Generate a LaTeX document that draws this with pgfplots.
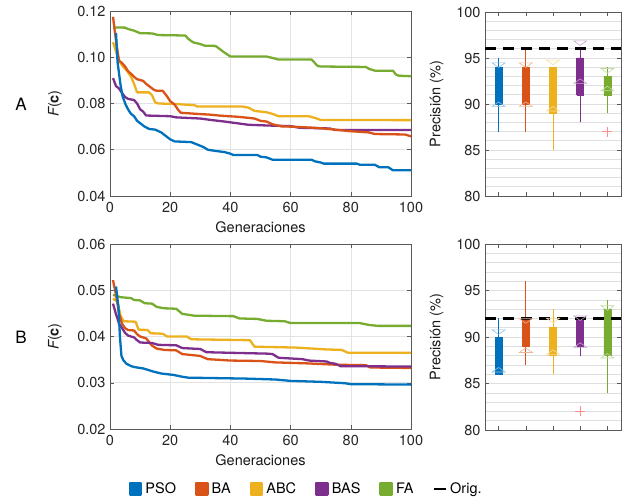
\documentclass[border=0pt]{standalone}
\usepackage{fontspec}
\setmainfont{TeX Gyre Heros}
\usepackage{pgfplots}
\pgfplotsset{compat=1.18}

\definecolor{cPSO}{rgb}{0,0.447,0.741}
\definecolor{cBA}{rgb}{0.85,0.325,0.098}
\definecolor{cABC}{rgb}{0.929,0.694,0.125}
\definecolor{cBAS}{rgb}{0.494,0.184,0.556}
\definecolor{cFA}{rgb}{0.466,0.674,0.188}

\newcommand{\fs}{\fontsize{14.5}{17}\selectfont}

\pgfplotsset{
  base/.style={
    scale only axis,
    axis line style={black!65},
    tick style={black!65, line width=0.5pt},
    tick align=inside,
    major tick length=4pt,
    minor tick length=0pt,
    every tick label/.append style={font=\fs, text=black!85},
    /pgf/number format/assume math mode=true,
    yticklabel style={xshift=-1pt},
    xticklabel style={yshift=-3pt},
  },
  conv/.style={
    base,
    width=301pt, height=185pt,
    xmin=0, xmax=100, xtick={0,20,...,100},
    scaled y ticks=false,
    grid=major, grid style={gray!22, line width=0.6pt},
    xlabel={Generaciones},
    ylabel={{\itshape F}(\textbf{c})},
    every axis x label/.style={at={(axis description cs:0.5,-0.17)}, anchor=center, font=\fs, text=black!90},
    every axis y label/.style={at={(axis description cs:-0.183,0.5)}, rotate=90, anchor=center, font=\fs, text=black!90},
    yticklabel style={/pgf/number format/fixed, /pgf/number format/fixed zerofill, /pgf/number format/precision=2},
    every axis plot/.append style={line width=2.3pt, no marks, line join=round},
  },
  prec/.style={
    base,
    width=136pt, height=184pt,
    xmin=0.5, xmax=5.5, xtick={1,2,3,4,5}, xticklabels={},
    ymin=80, ymax=100, ytick={80,85,...,100},
    minor y tick num=4,
    ymajorgrids, yminorgrids,
    major grid style={gray!25, line width=0.6pt},
    minor grid style={gray!25, line width=0.6pt},
    ylabel={Precisión (\%)},
    every axis y label/.style={at={(axis description cs:-0.355,0.5)}, rotate=90, anchor=center, font=\fs, text=black!90},
  },
  wsk/.style={solid, draw=#1, line width=0.8pt, no marks},
  bx/.style={solid, fill=#1, draw=#1, line width=0.5pt, no marks},
  ndn/.style={only marks, mark=triangle, mark size=7.5pt,
    mark options={solid, draw=#1!45, fill=none, yscale=0.4, rotate=180, line width=0.6pt}},
  nup/.style={only marks, mark=triangle, mark size=7.5pt,
    mark options={solid, draw=#1!45, fill=none, yscale=0.4, line width=0.6pt}},
  outl/.style={only marks, mark=+, mark size=5pt, mark options={draw=red!45, line width=0.6pt}},
  orig/.style={black, line width=2.6pt, dash pattern=on 11pt off 7pt},
  sq/.style={legend image code/.code={\fill[#1] (0pt,-5.6pt) rectangle (11.3pt,5.6pt);}},
}

\begin{document}
\begin{tikzpicture}
\useasboundingbox (0,0) rectangle (628pt,501pt);

\node[font=\fontsize{17}{19}\selectfont] at (21pt,397pt) {A};
\node[font=\fontsize{17}{19}\selectfont] at (21pt,164pt) {B};

% ---------- A: convergence ----------
\begin{axis}[conv, at={(110pt,305pt)}, anchor=south west,
  ymin=0.04, ymax=0.12, ytick={0.04,0.06,...,0.12}]
\addplot[cFA] coordinates {
(1,0.1129) (5,0.1128) (6,0.1122) (8,0.1115) (10,0.1104) (14,0.1103) (16,0.1096)
(25,0.1094) (26,0.108) (27.5,0.1065) (30,0.1057) (31.5,0.1050) (35,0.1049) (36,0.104)
(37.5,0.1025) (40,0.1003) (52,0.1003) (54,0.0997) (56,0.0990) (67,0.0990) (69,0.0962)
(70,0.0960) (85,0.0958) (86,0.0950) (88,0.0942) (94,0.0942) (95,0.0925) (96,0.0920) (100,0.0918)};
\addplot[cBAS] coordinates {
(1,0.091) (2,0.0875) (3,0.0865) (4,0.0845) (5,0.0828) (6,0.082) (8,0.0815) (9,0.0800)
(10,0.0775) (11,0.0765) (12,0.0748) (20,0.0745) (22,0.0740) (30,0.0735) (34,0.0728)
(38,0.0722) (42,0.0715) (46,0.0708) (52,0.0705) (60,0.0702) (63,0.0695) (73,0.0692)
(75,0.0685) (100,0.0685)};
\addplot[cABC] coordinates {
(1,0.1065) (2,0.1025) (3,0.0985) (4,0.0965) (5,0.095) (6,0.0935) (7,0.0915) (8,0.0885)
(9,0.0848) (13,0.0848) (14,0.0835) (15,0.0805) (16,0.08) (22,0.0798) (25,0.0795)
(28,0.0793) (29,0.0787) (44,0.0787) (46,0.0782) (48,0.0768) (52,0.0762) (54,0.0755)
(56,0.0745) (66,0.0745) (68,0.0738) (70,0.0729) (100,0.0728)};
\addplot[cBA] coordinates {
(1,0.1175) (2,0.107) (3,0.0985) (4,0.0975) (5,0.096) (6,0.094) (7,0.0928) (8,0.0915)
(9,0.0905) (11,0.0898) (12,0.0885) (13,0.0875) (14.5,0.0860) (15.5,0.0855) (17.5,0.0855)
(19,0.083) (20,0.081) (21.5,0.0795) (22.5,0.0775) (23.5,0.076) (29,0.0755) (33,0.0752)
(37,0.0747) (42,0.0743) (46,0.0738) (48,0.0735) (50,0.0725) (52,0.0722) (54,0.071)
(57,0.0701) (60,0.0700) (68,0.0695) (74,0.0688) (80,0.068) (86,0.0675) (88,0.0668)
(98,0.0666) (100,0.0658)};
\addplot[cPSO] coordinates {
(2,0.1105) (2.5,0.098) (3.5,0.088) (4.2,0.083) (5.2,0.0795) (6.2,0.077) (7,0.0755)
(8,0.0745) (9,0.0725) (10,0.0715) (11.5,0.0700) (13,0.069) (15,0.0687) (17,0.0675)
(18.5,0.066) (20,0.0645) (21.5,0.0636) (27,0.0633) (28.5,0.0625) (31,0.0612) (32.5,0.060)
(35,0.0595) (38,0.059) (40,0.0583) (41,0.0577) (49,0.0577) (50,0.057) (52,0.0567)
(54,0.0557) (67,0.0557) (68,0.055) (70,0.0545) (71,0.054) (82,0.054) (83,0.0535)
(88,0.0535) (89.5,0.0524) (92.5,0.0524) (94,0.0511) (100,0.0511)};
\end{axis}

% ---------- A: precision ----------
\begin{axis}[prec, at={(485pt,305pt)}, anchor=south west]
% whiskers
\addplot[wsk=cPSO] coordinates {(1,87) (1,95)};
\addplot[wsk=cBA]  coordinates {(2,87) (2,96)};
\addplot[wsk=cABC] coordinates {(3,85) (3,94)};
\addplot[wsk=cBAS] coordinates {(4,88) (4,96)};
\addplot[wsk=cFA]  coordinates {(5,89) (5,94)};
% boxes (lower to upper quartile)
\addplot[bx=cPSO] coordinates {(0.87,90) (1.13,90) (1.13,94) (0.87,94) (0.87,90)};
\addplot[bx=cBA]  coordinates {(1.87,90) (2.13,90) (2.13,94) (1.87,94) (1.87,90)};
\addplot[bx=cABC] coordinates {(2.87,89) (3.13,89) (3.13,94) (2.87,94) (2.87,89)};
\addplot[bx=cBAS] coordinates {(3.87,91) (4.13,91) (4.13,95) (3.87,95) (3.87,91)};
\addplot[bx=cFA]  coordinates {(4.87,91) (5.13,91) (5.13,93) (4.87,93) (4.87,91)};
% notches
\addplot[ndn=cPSO] coordinates {(1,94.3)};
\addplot[nup=cPSO] coordinates {(1,89.9)};
\addplot[ndn=cBA] coordinates {(2,94.3)};
\addplot[nup=cBA] coordinates {(2,89.9)};
\addplot[ndn=cABC] coordinates {(3,94.6)};
\addplot[nup=cABC] coordinates {(3,89.4)};
\addplot[ndn=cBAS] coordinates {(4,96.7)};
\addplot[nup=cBAS] coordinates {(4,92.4)};
\addplot[ndn=cFA] coordinates {(5,93.7)};
\addplot[nup=cFA] coordinates {(5,91.6)};
\addplot[outl] coordinates {(5,87)};
\addplot[orig] coordinates {(0.5,96) (5.5,96)};
\end{axis}

% ---------- B: convergence ----------
\begin{axis}[conv, at={(110pt,72pt)}, anchor=south west,
  ymin=0.02, ymax=0.06, ytick={0.02,0.03,...,0.06},
  legend columns=6,
  legend style={at={(axis description cs:0.652,-0.324)}, anchor=center, draw=none,
    font=\fs, inner sep=0pt,
    /tikz/every even column/.append style={column sep=17pt},
    /tikz/every odd column/.append style={column sep=1pt},
    /tikz/column 10/.append style={column sep=5pt}},
  ]
\addlegendimage{sq=cPSO}
\addlegendentry{PSO}
\addlegendimage{sq=cBA}
\addlegendentry{BA}
\addlegendimage{sq=cABC}
\addlegendentry{ABC}
\addlegendimage{sq=cBAS}
\addlegendentry{BAS}
\addlegendimage{sq=cFA}
\addlegendentry{FA}
\addlegendimage{legend image code/.code={\draw[black, line width=2.6pt] (0pt,0pt) -- (12pt,0pt);}}
\addlegendentry{Orig.}
\addplot[cFA] coordinates {
(1,0.0490) (3.5,0.0485) (7,0.0483) (8,0.0479) (10,0.0478) (11.5,0.0472) (14,0.0471)
(15.5,0.0464) (18,0.0461) (22,0.0460) (24,0.0449) (28,0.0445) (41,0.0444) (43,0.0439)
(49,0.0438) (52,0.0434) (58,0.0433) (60,0.0429) (83,0.0429) (86,0.0425) (89,0.0423) (100,0.0423)};
\addplot[cABC] coordinates {
(1,0.0482) (2.5,0.0475) (3.5,0.0445) (4.5,0.0433) (8.5,0.0432) (9.5,0.0415) (12.5,0.0414)
(13.5,0.0407) (17.5,0.0406) (19,0.0400) (25.5,0.0400) (27,0.0394) (46.5,0.0392) (48,0.0378)
(62,0.0376) (72,0.0372) (77,0.0371) (79,0.0365) (100,0.0365)};
\addplot[cBA] coordinates {
(1,0.0522) (2,0.0490) (3,0.0450) (4,0.0428) (5,0.0418) (6,0.0414) (8,0.0413) (9,0.0405)
(10,0.040) (12,0.0396) (13,0.0388) (14,0.0380) (15.5,0.0374) (18,0.0371) (22,0.0370)
(24,0.0362) (30,0.0358) (31,0.0355) (32.5,0.0351) (40,0.0348) (50,0.0347) (55,0.0344)
(65,0.0342) (75,0.0339) (85,0.0338) (86.5,0.0333) (100,0.0332)};
\addplot[cBAS] coordinates {
(1,0.0471) (2,0.0448) (3,0.0428) (4,0.0418) (5,0.0408) (6,0.0402) (8,0.0398) (9,0.0392)
(10,0.0387) (14,0.0386) (16,0.0382) (22,0.0381) (24,0.0375) (30,0.0373) (32,0.0366)
(52,0.0363) (54,0.0362) (56,0.0354) (64,0.0351) (66,0.0348) (72,0.0346) (73,0.0343)
(75,0.0341) (76.5,0.0336) (100,0.0335)};
\addplot[cPSO] coordinates {
(2,0.0508) (2.8,0.0464) (3.3,0.040) (3.8,0.0358) (4.5,0.0348) (5.5,0.0341) (7,0.0336)
(8,0.0334) (11,0.0331) (13,0.0327) (14.5,0.0324) (17,0.032) (21,0.0317) (24,0.0313)
(26,0.0311) (45,0.0309) (55,0.0307) (60,0.0304) (70,0.0302) (78,0.0299) (80,0.0297) (100,0.0296)};
\end{axis}

% ---------- B: precision ----------
\begin{axis}[prec, at={(485pt,71pt)}, anchor=south west, height=186pt]
\addplot[wsk=cPSO] coordinates {(1,86) (1,92)};
\addplot[wsk=cBA]  coordinates {(2,87) (2,96)};
\addplot[wsk=cABC] coordinates {(3,86) (3,93)};
\addplot[wsk=cBAS] coordinates {(4,88) (4,92)};
\addplot[wsk=cFA]  coordinates {(5,84) (5,94)};
\addplot[bx=cPSO] coordinates {(0.87,86) (1.13,86) (1.13,90) (0.87,90) (0.87,86)};
\addplot[bx=cBA]  coordinates {(1.87,89) (2.13,89) (2.13,92) (1.87,92) (1.87,89)};
\addplot[bx=cABC] coordinates {(2.87,88) (3.13,88) (3.13,91) (2.87,91) (2.87,88)};
\addplot[bx=cBAS] coordinates {(3.87,89) (4.13,89) (4.13,92) (3.87,92) (3.87,89)};
\addplot[bx=cFA]  coordinates {(4.87,88) (5.13,88) (5.13,93) (4.87,93) (4.87,88)};
\addplot[ndn=cPSO] coordinates {(1,90.6)};
\addplot[nup=cPSO] coordinates {(1,86.4)};
\addplot[ndn=cBA] coordinates {(2,91.8)};
\addplot[nup=cBA] coordinates {(2,88.5)};
\addplot[ndn=cABC] coordinates {(3,91.85)};
\addplot[nup=cABC] coordinates {(3,88.3)};
\addplot[ndn=cBAS] coordinates {(4,92.1)};
\addplot[nup=cBAS] coordinates {(4,89.05)};
\addplot[ndn=cFA] coordinates {(5,93.2)};
\addplot[nup=cFA] coordinates {(5,87.9)};
\addplot[outl] coordinates {(4,82)};
\addplot[orig] coordinates {(0.5,92) (5.5,92)};
\end{axis}
\end{tikzpicture}
\end{document}
